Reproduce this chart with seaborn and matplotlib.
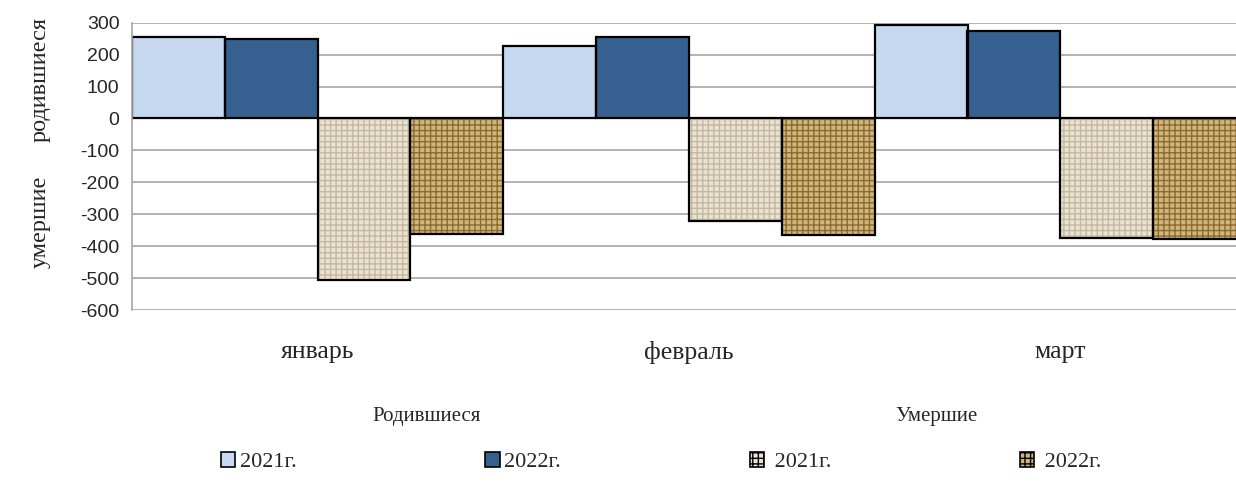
import pandas as pd
import matplotlib
matplotlib.use("Agg")
import matplotlib.pyplot as plt
import seaborn as sns
from matplotlib.patches import Patch

# данные (оценка по рисунку)
months = ["январь", "февраль", "март"]
born_2021 = [254, 226, 292]
born_2022 = [250, 256, 274]
died_2021 = [-505, -321, -374]
died_2022 = [-363, -366, -379]

series = ["Родившиеся 2021г.", "Родившиеся 2022г.", "Умершие 2021г.", "Умершие 2022г."]
legend_labels = ["2021г.", "2022г.", " 2021г.", " 2022г."]
face_colors = ["#c6d9f0", "#36608f", "#eae2d2", "#d2b679"]
hatch_colors = [None, None, "#c4b89f", "#8a6a35"]
hatches = [None, None, "+++", "+++"]

y_ticks = [300, 200, 100, 0, -100, -200, -300, -400, -500, -600]

df = pd.DataFrame({
    "month": months * 4,
    "series": [s for s in series for _ in months],
    "value": born_2021 + born_2022 + died_2021 + died_2022,
})

sns.set_style("white")
plt.rcParams["hatch.linewidth"] = 1.0

W, H = 1236, 492
fig = plt.figure(figsize=(W / 100, H / 100), dpi=100)
ax = fig.add_axes([132 / W, 1 - 310 / H, (1246 - 132) / W, (310 - 22.7) / H])

# заливка
sns.barplot(data=df, x="month", y="value", hue="series", order=months,
            hue_order=series, palette=face_colors, width=1.0, dodge=True,
            errorbar=None, legend=False, linewidth=0, saturation=1, ax=ax)
for i, cont in enumerate(ax.containers):
    if hatches[i]:
        for bar in cont:
            bar.set_hatch(hatches[i])
            bar.set_edgecolor(hatch_colors[i])
            bar.set_linewidth(0)
n_fill = len(ax.containers)

# контуры
sns.barplot(data=df, x="month", y="value", hue="series", order=months,
            hue_order=series, palette=face_colors, width=1.0, dodge=True,
            errorbar=None, legend=False, ax=ax)
for cont in ax.containers[n_fill:]:
    for bar in cont:
        bar.set_facecolor("none")
        bar.set_edgecolor("black")
        bar.set_linewidth(1.6)

ax.set_ylim(-600, 300)
ax.set_xlim(-0.5, 2.5)
ax.set_yticks(y_ticks)
ax.set_yticklabels([str(t) for t in y_ticks], family="Liberation Sans", fontsize=14)
ax.set_xticks(range(len(months)))
ax.set_xticklabels(months, family="Liberation Serif", fontsize=18.5)
ax.tick_params(axis="x", length=0, pad=22)
ax.tick_params(axis="y", length=5, width=1.2, color="#a6a6a6", pad=4)
ax.set_xlabel("")
ax.set_ylabel("")
ax.yaxis.grid(True, color="#a6a6a6", linewidth=1.2)
ax.set_axisbelow(True)
for side in ["top", "right", "bottom"]:
    ax.spines[side].set_visible(False)
ax.spines["left"].set_color("#a6a6a6")
ax.spines["left"].set_linewidth(1.2)

# подпись оси Y
fig.text(40 / W, 1 - 80 / H, "родившиеся", rotation=90, ha="center", va="center",
         family="Liberation Serif", fontsize=17.5)
fig.text(40 / W, 1 - 222 / H, "умершие", rotation=90, ha="center", va="center",
         family="Liberation Serif", fontsize=17.5)

# групповые подписи
fig.text(427 / W, 1 - 416 / H, "Родившиеся", ha="center", va="center",
         family="Liberation Serif", fontsize=15)
fig.text(936 / W, 1 - 416 / H, "Умершие", ha="center", va="center",
         family="Liberation Serif", fontsize=15)

# легенда
handles = [Patch(facecolor=face_colors[i], edgecolor="black", linewidth=1.2,
                 hatch=hatches[i]) for i in range(4)]
fig.legend(handles, legend_labels, loc="center", bbox_to_anchor=(661 / W, 1 - 462 / H),
           ncol=4, frameon=False, handlelength=0.65, handleheight=0.65,
           handletextpad=0.2, columnspacing=8.5,
           prop={"family": "Liberation Serif", "size": 16})

fig.savefig("out.png", dpi=100)
